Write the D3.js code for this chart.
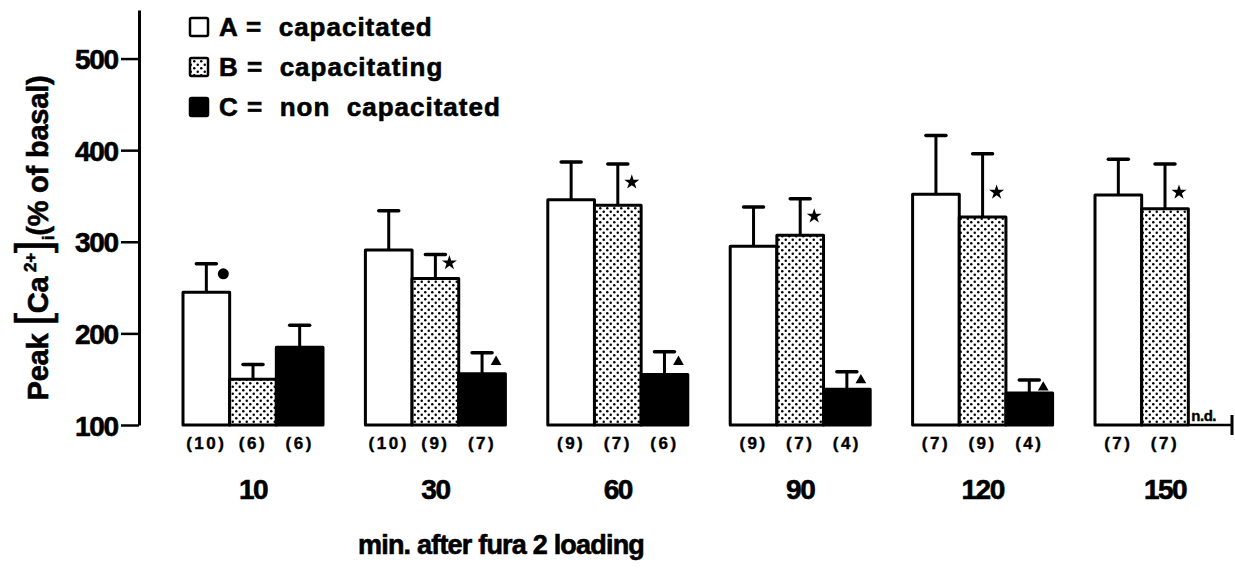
<!DOCTYPE html>
<html>
<head>
<meta charset="utf-8">
<script src="https://cdn.jsdelivr.net/npm/d3@7"></script>
<style>
  body { margin:0; background:#fff; }
  svg { display:block; }
  text { font-family:"Liberation Sans", Arial, sans-serif; font-weight:bold; fill:#000; stroke:#000; stroke-width:0.6px; }
</style>
</head>
<body>
<svg id="chart" width="1235" height="571"></svg>
<script>
// values (peak [Ca2+]i, % of basal)
const groups = ["10","30","60","90","120","150"];
const meanA = [245, 291, 346, 295, 352, 351];
const errA  = [276, 334, 387, 338, 416, 390];
const meanB = [150, 260, 340, 307, 327, 336];
const errB  = [166, 286, 385, 347, 396, 385];
const meanC = [185, 156, 155, 139, 135, null];
const errC  = [209, 179, 180, 158, 149, null];
const nA = ["(10)","(10)","(9)","(9)","(7)","(7)"];
const nB = ["(6)","(9)","(7)","(7)","(9)","(7)"];
const nC = ["(6)","(7)","(6)","(4)","(4)",""];
// significance symbols, level in data units
const markA = [265, null, null, null, null, null];
const markB = [null, 277, 365, 328, 354, 354];
const markC = [null, 169, 169, 149, 141, null];
const yTicks = [100, 200, 300, 400, 500];
const legendLabels = ["A =  capacitated", "B =  capacitating", "C =  non  capacitated"];

const series = [
  {key:"A", mean:meanA, err:errA, n:nA, mark:markA, sym:"circle"},
  {key:"B", mean:meanB, err:errB, n:nB, mark:markB, sym:"star"},
  {key:"C", mean:meanC, err:errC, n:nC, mark:markC, sym:"triangle"}
];
const fills = {A:"#fff", B:"url(#dots)", C:"#000"};

const svg = d3.select("#chart");
const defs = svg.append("defs");
const pat = defs.append("pattern").attr("id","dots")
  .attr("width",7).attr("height",7).attr("patternUnits","userSpaceOnUse");
pat.append("rect").attr("width",7).attr("height",7).attr("fill","#fff");
pat.append("circle").attr("cx",1.75).attr("cy",1.75).attr("r",1.25).attr("fill","#000");
pat.append("circle").attr("cx",5.25).attr("cy",5.25).attr("r",1.25).attr("fill","#000");

const y = d3.scaleLinear().domain([100, 553]).range([425, 10]);
const x0 = d3.scaleBand().domain(groups).range([183, 1235]).paddingInner(0.2325).paddingOuter(0);
const x1 = d3.scaleBand().domain(["A","B","C"]).range([0, x0.bandwidth()]);

// y axis
const axisX = 139;
const ax = svg.append("g").attr("transform", `translate(${axisX},0)`)
  .call(d3.axisLeft(y).tickValues(yTicks).tickSize(18).tickSizeOuter(0).tickPadding(3));
ax.select(".domain").attr("stroke","#000").attr("stroke-width",3);
ax.selectAll(".tick line").attr("stroke","#000").attr("stroke-width",2.5);
ax.selectAll(".tick text").attr("font-size",28).attr("letter-spacing",-1.2)
  .attr("font-family","'Liberation Sans', Arial, sans-serif").attr("fill","#000").attr("dy","0.36em");

// y title
const yt = svg.append("text").attr("transform","translate(48,238) rotate(-90)")
  .attr("text-anchor","middle").attr("font-size",29).attr("letter-spacing",-0.2);
yt.append("tspan").text("Peak ");
yt.append("tspan").attr("font-size",46).attr("font-weight","normal").text("[");
yt.append("tspan").text("Ca");
yt.append("tspan").attr("font-size",17).attr("dy",-12).text(" 2+");
yt.append("tspan").attr("font-size",46).attr("font-weight","normal").attr("dy",12).text("]");
yt.append("tspan").attr("font-size",17).attr("dy",6).text("i");
yt.append("tspan").attr("dy",-6).text("(% of basal)");

// bars, error bars, n labels, symbols
series.forEach(s => {
  const rows = groups.map((g,i) => ({g, i, v:s.mean[i], e:s.err[i], n:s.n[i], m:s.mark[i]}));
  const cx = x1(s.key) + x1.bandwidth()/2;
  const gs = svg.append("g");
  const valid = rows.filter(r => r.v != null);
  gs.selectAll("rect").data(valid).join("rect")
    .attr("x", r => x0(r.g) + x1(s.key))
    .attr("y", r => y(r.v))
    .attr("width", x1.bandwidth())
    .attr("height", r => y(100) - y(r.v))
    .attr("fill", fills[s.key]).attr("stroke","#000").attr("stroke-width",3)
    .attr("stroke-linejoin","round");
  gs.selectAll("line.eb").data(valid).join("line").attr("class","eb")
    .attr("x1", r => x0(r.g) + cx).attr("x2", r => x0(r.g) + cx)
    .attr("y1", r => y(r.v)).attr("y2", r => y(r.e))
    .attr("stroke","#000").attr("stroke-width",3);
  gs.selectAll("line.cap").data(valid).join("line").attr("class","cap")
    .attr("x1", r => x0(r.g) + cx - 10).attr("x2", r => x0(r.g) + cx + 10)
    .attr("y1", r => y(r.e)).attr("y2", r => y(r.e))
    .attr("stroke","#000").attr("stroke-width",3.5).attr("stroke-linecap","round");
  gs.selectAll("text.n").data(rows).join("text").attr("class","n")
    .attr("x", r => x0(r.g) + cx).attr("y", 449)
    .attr("text-anchor","middle").attr("font-size",17).attr("letter-spacing",2.5)
    .style("stroke-width","0.4px")
    .text(r => r.n);
  const marks = rows.filter(r => r.m != null);
  const dx = s.sym === "circle" ? 17 : 14;
  const sym = s.sym === "circle" ? d3.symbolCircle : s.sym === "star" ? d3.symbolStar : d3.symbolTriangle;
  const size = s.sym === "circle" ? 95 : s.sym === "star" ? 70 : 50;
  gs.selectAll("path.mk").data(marks).join("path").attr("class","mk")
    .attr("d", d3.symbol(sym, size))
    .attr("transform", r => `translate(${x0(r.g) + cx + dx},${y(r.m)})`)
    .attr("fill","#000");
});

// n.d. for missing C at 150 min
const ndGroup = groups[meanC.findIndex(v => v == null)];
const ndX = x0(ndGroup) + x1("C");
svg.append("line").attr("x1", ndX).attr("x2", ndX + x1.bandwidth() - 2)
  .attr("y1", y(100)).attr("y2", y(100)).attr("stroke","#000").attr("stroke-width",2.5);
svg.append("line").attr("x1", ndX + x1.bandwidth() - 3).attr("x2", ndX + x1.bandwidth() - 3)
  .attr("y1", y(100) - 10).attr("y2", y(100) + 10).attr("stroke","#000").attr("stroke-width",3);
svg.append("text").attr("x", ndX + 3).attr("y", y(100) - 4)
  .attr("font-size",15).attr("letter-spacing",-0.5).style("stroke-width","0.4px").text("n.d.");

// group labels
svg.selectAll("text.grpLab").data(groups).join("text").attr("class","grpLab")
  .attr("x", d => x0(d) + x0.bandwidth()/2).attr("y", 499)
  .attr("text-anchor","middle").attr("font-size",28).attr("letter-spacing",-1.5)
  .text(d => d);

// x title
svg.append("text").attr("x",358).attr("y",554).attr("font-size",27).attr("letter-spacing",-0.8)
  .text("min. after fura 2 loading");

// legend
const lg = svg.append("g");
const ly = d3.scalePoint().domain(["A","B","C"]).range([27, 107]);
lg.selectAll("rect").data(series).join("rect")
  .attr("x",190).attr("y", s => ly(s.key) - 9).attr("width",18).attr("height",18)
  .attr("fill", s => fills[s.key]).attr("stroke","#000").attr("stroke-width",2.5).attr("rx",1.5);
lg.selectAll("text").data(series).join("text")
  .attr("x",219).attr("y", s => ly(s.key) + 9).attr("font-size",26).attr("letter-spacing",1)
  .style("white-space","pre")
  .text((s,i) => legendLabels[i]);
</script>
</body>
</html>
